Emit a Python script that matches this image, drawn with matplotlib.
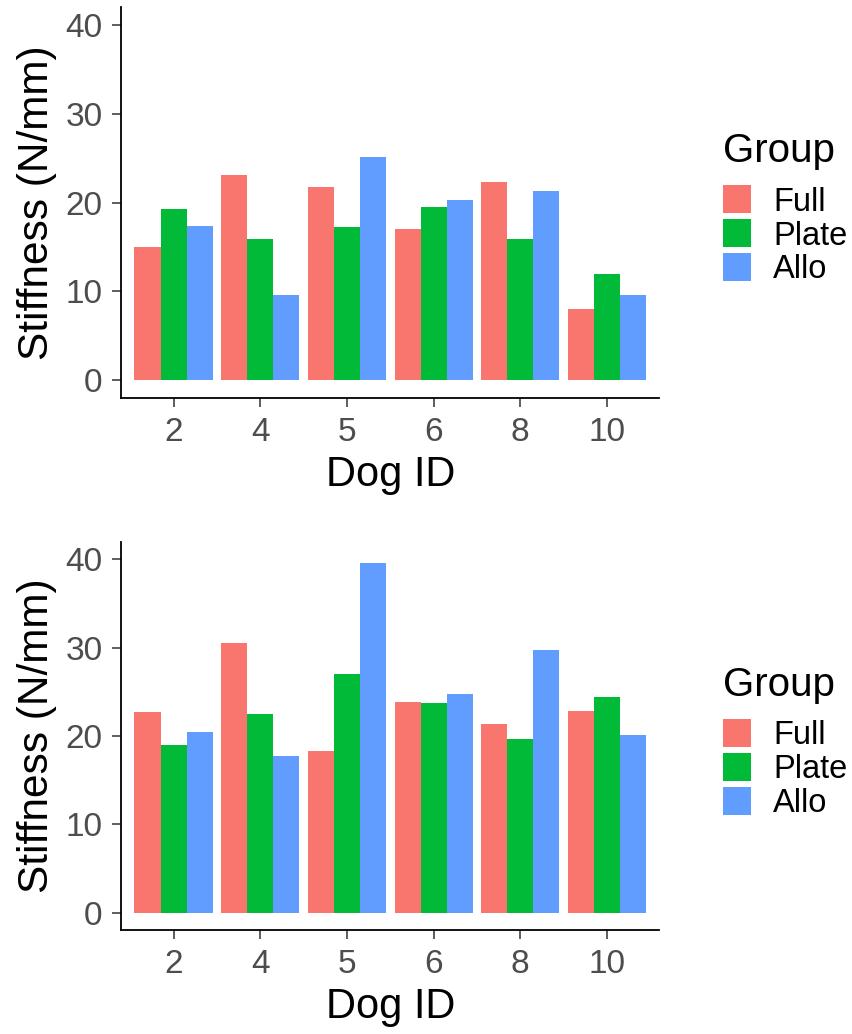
import numpy as np
import matplotlib
matplotlib.use("Agg")
import matplotlib.pyplot as plt

plt.rcParams['font.family'] = ['Liberation Sans', 'DejaVu Sans']

# data
dogs = ['2', '4', '5', '6', '8', '10']
groups = ['Full', 'Plate', 'Allo']
colors = ['#F8766D', '#00BA38', '#619CFF']

# top panel
top_full = [15.0, 23.1, 21.8, 17.0, 22.3, 8.0]
top_plate = [19.3, 15.9, 17.2, 19.5, 15.9, 11.9]
top_allo = [17.4, 9.6, 25.1, 20.3, 21.3, 9.6]

# bottom panel
bot_full = [22.7, 30.5, 18.3, 23.9, 21.4, 22.8]
bot_plate = [19.0, 22.5, 27.0, 23.7, 19.7, 24.4]
bot_allo = [20.5, 17.7, 39.6, 24.8, 29.7, 20.1]

fig = plt.figure(figsize=(8.52, 10.34), dpi=100)
ax1 = fig.add_axes([0.1426, 0.6151, 0.6309, 0.3781])
ax2 = fig.add_axes([0.1426, 0.1001, 0.6309, 0.3762])

x = np.arange(len(dogs))
w = 0.3

for ax, series in [(ax1, [top_full, top_plate, top_allo]),
                   (ax2, [bot_full, bot_plate, bot_allo])]:
    for k, (vals, g, c) in enumerate(zip(series, groups, colors)):
        ax.bar(x + (k - 1) * w, vals, width=w, color=c, label=g, linewidth=0)

    ax.set_xlim(-0.6, len(dogs) - 0.4)
    ax.set_ylim(-2, 42)
    ax.set_xticks(x)
    ax.set_xticklabels(dogs)
    ax.set_yticks([0, 10, 20, 30, 40])

    for s in ['top', 'right']:
        ax.spines[s].set_visible(False)
    for s in ['left', 'bottom']:
        ax.spines[s].set_color('black')
        ax.spines[s].set_linewidth(1.3)
    ax.tick_params(axis='both', colors='#333333', width=1.1, length=6.5,
                   labelsize=24, labelcolor='#4D4D4D', pad=7)

    ax.set_xlabel('Dog ID', fontsize=30, color='black', labelpad=5)
    ax.set_ylabel('Stiffness (N/mm)', fontsize=30.5, color='black', labelpad=6)

    leg = ax.legend(title='Group', loc='center left', bbox_to_anchor=(1.119, 0.484),
                    frameon=False, fontsize=23.5, title_fontsize=29,
                    handlelength=0.87, handleheight=0.95, handletextpad=0.66,
                    labelspacing=0.05, borderpad=0, borderaxespad=0,
                    alignment='left')
    leg._legend_box.sep = 11

fig.savefig('out.png', dpi=100, facecolor='white')
